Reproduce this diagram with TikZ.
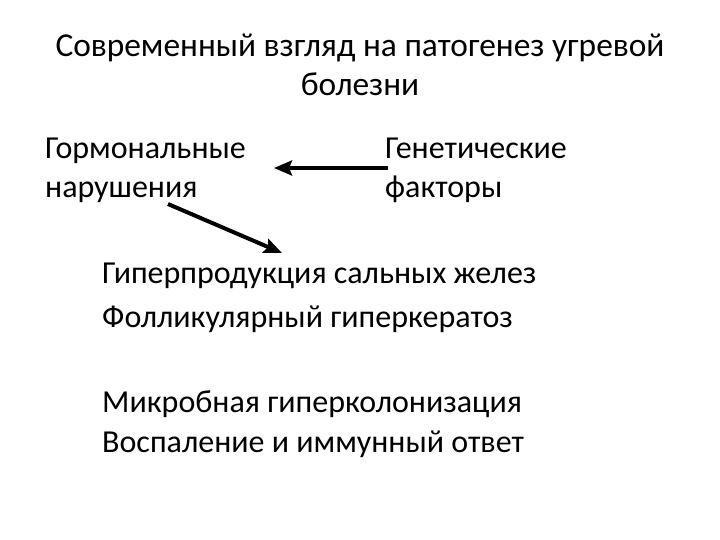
\documentclass[tikz,border=0pt]{standalone}
\usepackage{fontspec}
\setmainfont{Carlito}
\usetikzlibrary{arrows.meta}
\begin{document}
\begin{tikzpicture}[x=1pt,y=-1pt,
  title/.style={font=\fontsize{33.4}{40}\selectfont, inner sep=0pt, anchor=base},
  body/.style={font=\fontsize{32}{38}\selectfont, inner sep=0pt, anchor=base west},
  arr/.style={line width=4pt, -{Stealth[length=18pt,width=15pt,inset=3pt]}}]
\useasboundingbox (0,0) rectangle (720,540);
\node[title] (t1) at (360,57) {Современный взгляд на патогенез угревой};
\node[title] (t2) at (360,96) {болезни};
\node[body] (h1) at (45,159) {Гормональные};
\node[body] (h2) at (45,197) {нарушения};
\node[body] (g1) at (385,159) {Генетические};
\node[body] (g2) at (385,197) {факторы};
\node[body] (p1) at (102,283) {Гиперпродукция сальных желез};
\node[body] (p2) at (102,327) {Фолликулярный гиперкератоз};
\node[body] (m1) at (102,412) {Микробная гиперколонизация};
\node[body] (m2) at (102,452) {Воспаление и иммунный ответ};
\coordinate (a1s) at (388,168);
\coordinate (a1e) at (274,168);
\coordinate (a2s) at (168,204);
\coordinate (a2e) at (282,253);
\draw[arr] (a1s) -- (a1e);
\draw[arr] (a2s) -- (a2e);
\end{tikzpicture}
\end{document}
